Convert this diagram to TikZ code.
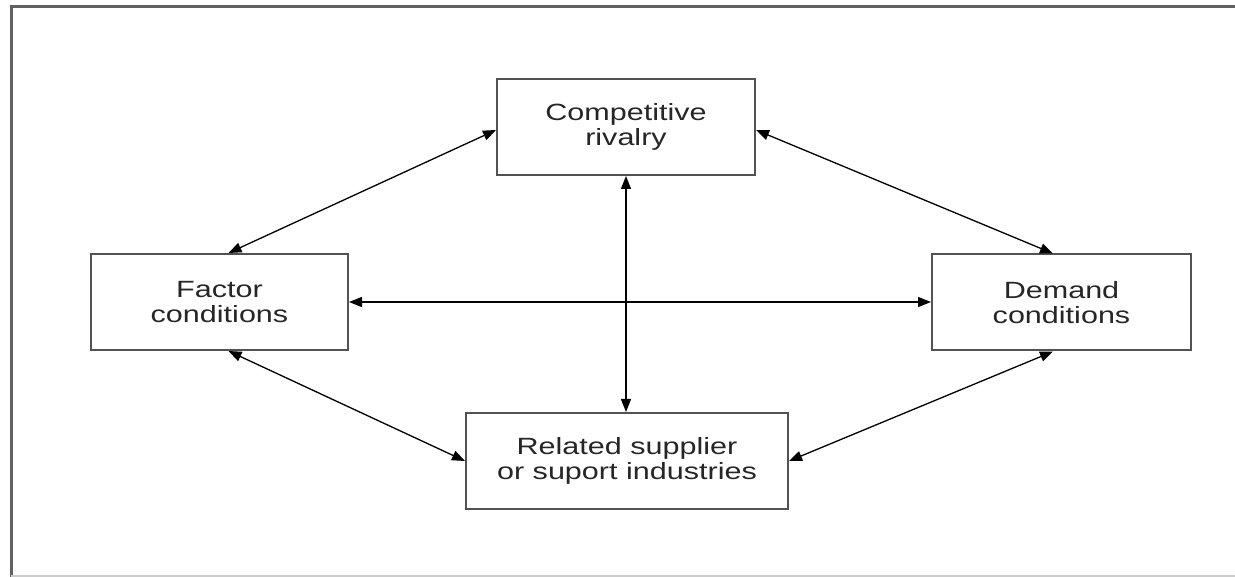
\documentclass[tikz,border=0pt]{standalone}
\usepackage{fontspec}
\setmainfont{Liberation Sans}
\usetikzlibrary{arrows.meta,calc}
\newcommand{\wtxt}[1]{\scalebox{1.3}[1]{#1}}
\begin{document}
\begin{tikzpicture}[x=1pt,y=-1pt,
  box/.style={draw=black!68,line width=2pt,minimum width=#1,minimum height=96pt,inner sep=0pt,
    align=center,font=\fontsize{23.5}{25}\selectfont,text=black!85},
  link/.style={line width=1.3pt,{Triangle[length=13pt,width=10pt]}-{Triangle[length=13pt,width=10pt]}}]
\useasboundingbox (0,0) rectangle (1235,577);
\fill[white] (0,0) rectangle (1235,577);
% frame
\draw[black!62,line width=3pt] (11,577) -- (11,7) -- (1236,7);
\draw[black!20,line width=2pt] (11,576) -- (1236,576);
% nodes
\node[box=258pt] (c) at (626,127) {\wtxt{Competitive}\\\wtxt{rivalry}};
\node[box=257pt] (f) at (219.5,302) {\wtxt{Factor}\\\wtxt{conditions}};
\node[box=259pt] (d) at (1061.5,302.5) {\wtxt{Demand}\\\wtxt{conditions}};
\node[box=322pt] (r) at (627,461) {\wtxt{Related supplier}\\\wtxt{or suport industries}};
% connectors
\draw[link] ([yshift=-3pt]c.west) -- ([xshift=9pt]f.north);
\draw[link] ([yshift=-3pt]c.east) -- ([xshift=-8.5pt]d.north);
\draw[link] ([xshift=9pt]f.south) -- (r.west);
\draw[link] ([xshift=-8.5pt]d.south) -- (r.east);
\draw[link] (c.south) -- (c.south |- r.north);
\draw[link] (f.east) -- (f.east -| d.west);
\end{tikzpicture}
\end{document}
